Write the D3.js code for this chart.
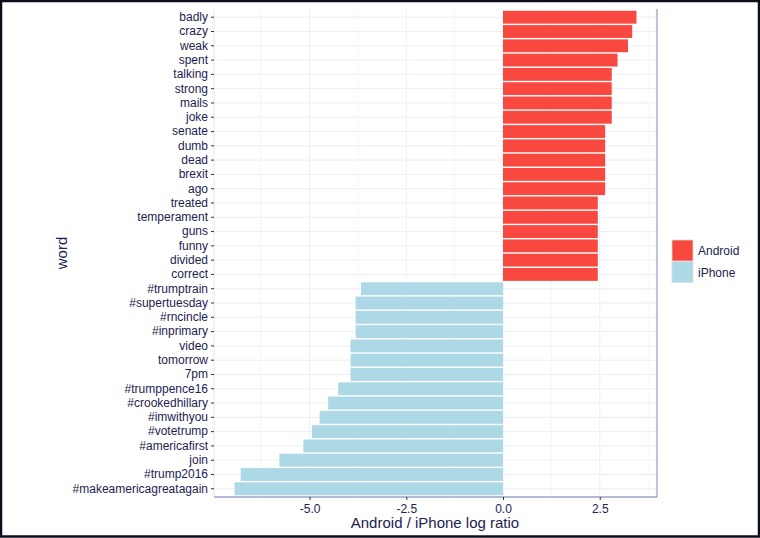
<!DOCTYPE html>
<html>
<head>
<meta charset="utf-8">
<script src="https://cdn.jsdelivr.net/npm/d3@7"></script>
<style>
  body { margin: 0; background: #fff; }
  svg { display: block; font-family: "Liberation Sans", Arial, sans-serif; }
</style>
</head>
<body>
<svg id="chart" width="760" height="538"></svg>
<script>
// words, top to bottom
const words = [
  'badly', 'crazy', 'weak', 'spent', 'talking', 'strong', 'mails', 'joke',
  'senate', 'dumb', 'dead', 'brexit', 'ago', 'treated', 'temperament', 'guns',
  'funny', 'divided', 'correct',
  '#trumptrain', '#supertuesday', '#rncincle', '#inprimary', 'video', 'tomorrow',
  '7pm', '#trumppence16', '#crookedhillary', '#imwithyou', '#votetrump',
  '#americafirst', 'join', '#trump2016', '#makeamericagreatagain'
];
const logRatio = [
  3.45, 3.34, 3.23, 2.96, 2.81, 2.81, 2.81, 2.81,
  2.64, 2.64, 2.64, 2.64, 2.64, 2.45, 2.45, 2.45,
  2.45, 2.45, 2.45,
  -3.67, -3.81, -3.81, -3.81, -3.94, -3.94,
  -3.94, -4.26, -4.52, -4.74, -4.94,
  -5.16, -5.78, -6.78, -6.94
];
const sources = ['Android', 'iPhone'];
const colors = ['#f9483f', '#add8e6'];
const xTicks = [-5, -2.5, 0, 2.5];

const data = words.map((w, i) => ({ word: w, value: logRatio[i] }));

const svg = d3.select('#chart');
const W = 760, H = 538;
const margin = { top: 9, right: 103, bottom: 41, left: 214 };
const width = W - margin.left - margin.right;
const height = H - margin.top - margin.bottom;
const axisCol = '#9ba3c6';
const textCol = '#1c2250';
const font = '"Liberation Sans", Arial, sans-serif';

// frame
svg.append('rect')
  .attr('x', 1).attr('y', 1).attr('width', W - 2).attr('height', H - 2.5)
  .attr('fill', '#fff').attr('stroke', '#0b0d1a').attr('stroke-width', 2.5);

const g = svg.append('g').attr('transform', `translate(${margin.left},${margin.top})`);

const x = d3.scaleLinear().domain([-7.47, 3.98]).range([0, width]);
const y = d3.scaleBand().domain(words).range([0, height]).paddingInner(0.1).paddingOuter(0.125);
const yc = (w) => y(w) + y.bandwidth() / 2;

// grid
const minor = [-6.25, -3.75, -1.25, 1.25, 3.75];
g.append('g').selectAll('line').data(minor).enter().append('line')
  .attr('x1', (d) => x(d)).attr('x2', (d) => x(d))
  .attr('y1', 0).attr('y2', height)
  .attr('stroke', '#f4f5fb').attr('stroke-width', 0.8);
g.append('g').selectAll('line').data(xTicks).enter().append('line')
  .attr('x1', (d) => x(d)).attr('x2', (d) => x(d))
  .attr('y1', 0).attr('y2', height)
  .attr('stroke', '#eceef8').attr('stroke-width', 1);
g.append('g').selectAll('line').data(words).enter().append('line')
  .attr('x1', 0).attr('x2', width)
  .attr('y1', (d) => yc(d)).attr('y2', (d) => yc(d))
  .attr('stroke', '#eceef8').attr('stroke-width', 1);

// bars
g.selectAll('rect.bar')
  .data(data)
  .enter()
  .append('rect')
  .attr('class', 'bar')
  .attr('x', (d) => x(Math.min(0, d.value)))
  .attr('y', (d) => y(d.word))
  .attr('width', (d) => Math.abs(x(d.value) - x(0)))
  .attr('height', y.bandwidth())
  .attr('fill', (d) => d.value > 0 ? colors[0] : colors[1]);

// axes
const xAxis = d3.axisBottom(x).tickValues(xTicks)
  .tickFormat((d) => d.toFixed(1)).tickSize(3).tickPadding(4);
const gx = g.append('g').attr('transform', `translate(0,${height})`).call(xAxis);
gx.select('.domain').attr('stroke', axisCol).attr('stroke-width', 1.3).attr('d', `M0,0H${width}`);
gx.selectAll('.tick line').attr('stroke', '#333');
gx.selectAll('.tick text').attr('fill', textCol).attr('font-size', 12).attr('font-family', font);

const yAxis = d3.axisLeft(y).tickSize(3).tickPadding(3);
const gy = g.append('g').call(yAxis);
gy.select('.domain').attr('stroke', '#e4e6f4').attr('stroke-width', 1).attr('d', `M0,0V${height}`);
gy.selectAll('.tick line').attr('stroke', '#333');
gy.selectAll('.tick text').attr('fill', textCol).attr('font-size', 12).attr('font-family', font);

// right border of panel
g.append('line')
  .attr('x1', width).attr('x2', width).attr('y1', 0).attr('y2', height)
  .attr('stroke', axisCol).attr('stroke-width', 1.3);

// titles
svg.append('text')
  .attr('x', 435).attr('y', 528)
  .attr('text-anchor', 'middle').attr('font-size', 15).attr('fill', textCol)
  .text('Android / iPhone log ratio');
svg.append('text')
  .attr('transform', `translate(67,${margin.top + height / 2}) rotate(-90)`)
  .attr('text-anchor', 'middle').attr('font-size', 15).attr('fill', textCol)
  .text('word');

// legend
const lg = svg.append('g').attr('transform', 'translate(672,240)');
sources.forEach((s, i) => {
  lg.append('rect')
    .attr('x', 0).attr('y', i * 21.5).attr('width', 21).attr('height', 21)
    .attr('fill', colors[i]).attr('stroke', '#ddd').attr('stroke-width', 0.8);
  lg.append('text')
    .attr('x', 26).attr('y', i * 21.5 + 15)
    .attr('font-size', 12).attr('fill', textCol)
    .text(s);
});
</script>
</body>
</html>
